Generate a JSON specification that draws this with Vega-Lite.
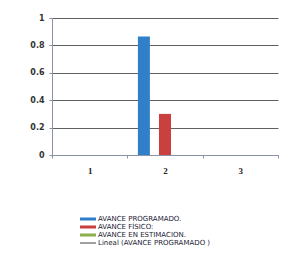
{
  "$schema": "https://vega.github.io/schema/vega-lite/v6.json",
  "width": 226,
  "height": 137,
  "autosize": "none",
  "padding": {"left": 52, "top": 18, "right": 14, "bottom": 118},
  "background": "white",
  "data": {
    "values": [
      {"punto": "1", "serie": "AVANCE PROGRAMADO.", "valor": 0},
      {"punto": "1", "serie": "AVANCE FÍSICO:", "valor": 0},
      {"punto": "1", "serie": "AVANCE EN ESTIMACION.", "valor": 0},
      {"punto": "2", "serie": "AVANCE PROGRAMADO.", "valor": 0.865},
      {"punto": "2", "serie": "AVANCE FÍSICO:", "valor": 0.3},
      {"punto": "2", "serie": "AVANCE EN ESTIMACION.", "valor": 0},
      {"punto": "3", "serie": "AVANCE PROGRAMADO.", "valor": 0},
      {"punto": "3", "serie": "AVANCE FÍSICO:", "valor": 0},
      {"punto": "3", "serie": "AVANCE EN ESTIMACION.", "valor": 0}
    ]
  },
  "mark": {"type": "bar", "width": 12},
  "encoding": {
    "x": {
      "field": "punto", "type": "nominal",
      "scale": {"paddingInner": 0, "paddingOuter": 0},
      "axis": {
        "title": null, "labelAngle": 0, "labelFont": "Liberation Serif", "labelFontWeight": "bold",
        "labelFontSize": 9, "labelColor": "#222", "labelPadding": 8, "domainColor": "#8a93a8",
        "tickColor": "#8a93a8", "tickBand": "extent", "tickSize": 3, "grid": false
      }
    },
    "xOffset": {
      "field": "serie", "type": "nominal",
      "scale": {"domain": ["AVANCE PROGRAMADO.", "AVANCE FÍSICO:", "AVANCE EN ESTIMACION."], "paddingInner": 0.43, "paddingOuter": 0.5}
    },
    "y": {
      "field": "valor", "type": "quantitative",
      "scale": {"domain": [0, 1], "nice": false},
      "axis": {
        "title": null, "values": [0, 0.2, 0.4, 0.6, 0.8, 1], "format": "~g",
        "labelFont": "DejaVu Sans", "labelFontWeight": "bold", "labelFontSize": 8, "labelColor": "#333",
        "labelPadding": 5, "domainColor": "#8a93a8", "tickColor": "#8a93a8", "tickSize": 3,
        "gridColor": "#606060", "gridWidth": 1
      }
    },
    "color": {
      "field": "serie", "type": "nominal",
      "scale": {
        "domain": ["AVANCE PROGRAMADO.", "AVANCE FÍSICO:", "AVANCE EN ESTIMACION.", "Lineal (AVANCE PROGRAMADO )"],
        "range": ["#2f80c8", "#c9403f", "#8db04c", "#111111"]
      },
      "legend": {
        "title": null, "orient": "none", "legendX": 32, "legendY": 197, "padding": 0,
        "symbolType": "M-2,-0.38H2V0.38H-2Z", "symbolSize": 64, "symbolStrokeWidth": 0,
        "rowPadding": 1, "labelOffset": 6, "labelFont": "DejaVu Sans", "labelFontSize": 7,
        "labelColor": "#223", "labelLimit": 220,
        "encode": {
          "symbols": {
            "update": {
              "shape": {"signal": "datum.value === 'Lineal (AVANCE PROGRAMADO )' ? 'M-2,-0.1H2V0.1H-2Z' : 'M-2,-0.38H2V0.38H-2Z'"}
            }
          }
        }
      }
    }
  },
  "config": {"view": {"stroke": null}}
}
